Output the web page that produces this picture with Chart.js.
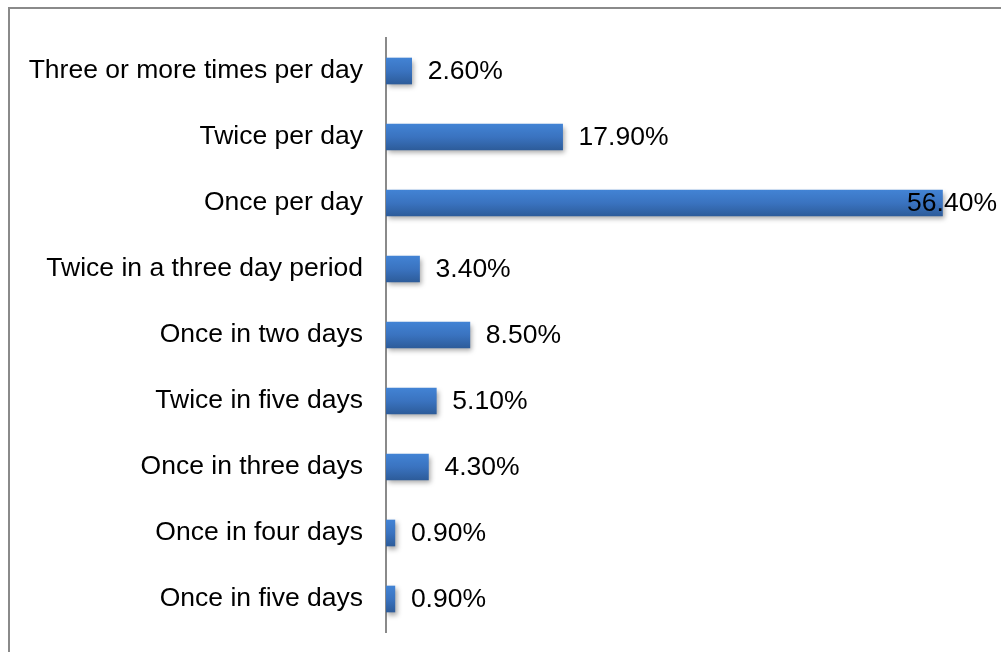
<!DOCTYPE html>
<html>
<head>
<meta charset="utf-8">
<script src="https://cdn.jsdelivr.net/npm/chart.js@4/dist/chart.umd.min.js"></script>
<style>
  html, body { margin: 0; padding: 0; background: #fff; }
  #wrap { width: 1001px; height: 652px; }
</style>
</head>
<body>
<div id="wrap"><canvas id="freq"></canvas></div>
<script>
const categories = [
  'Three or more times per day',
  'Twice per day',
  'Once per day',
  'Twice in a three day period',
  'Once in two days',
  'Twice in five days',
  'Once in three days',
  'Once in four days',
  'Once in five days'
];
const shares = [2.6, 17.9, 56.4, 3.4, 8.5, 5.1, 4.3, 0.9, 0.9];

const FONT = '"Liberation Sans", Arial, sans-serif';
const FONT_SIZE = 26.5;

// outer frame: left and top edges only
const framePlugin = {
  id: 'frame',
  beforeDraw(chart) {
    const ctx = chart.ctx;
    ctx.save();
    ctx.fillStyle = '#8a8a8a';
    ctx.fillRect(8, 7, 2, 645);
    ctx.fillRect(8, 7, 993, 2);
    ctx.restore();
  }
};

// soft drop shadow under the bars
const shadowPlugin = {
  id: 'barShadow',
  beforeDatasetsDraw(chart) {
    const ctx = chart.ctx;
    ctx.save();
    ctx.shadowColor = 'rgba(0,0,0,0.35)';
    ctx.shadowBlur = 5;
    ctx.shadowOffsetX = 2;
    ctx.shadowOffsetY = 3;
  },
  afterDatasetsDraw(chart) {
    chart.ctx.restore();
  }
};

// value labels to the right of each bar, kept inside the canvas
const valueLabels = {
  id: 'valueLabels',
  afterDatasetsDraw(chart) {
    const ctx = chart.ctx;
    const meta = chart.getDatasetMeta(0);
    ctx.save();
    ctx.font = FONT_SIZE + 'px ' + FONT;
    ctx.fillStyle = '#000';
    ctx.textBaseline = 'middle';
    ctx.textAlign = 'left';
    meta.data.forEach((bar, i) => {
      const txt = shares[i].toFixed(2) + '%';
      const w = ctx.measureText(txt).width;
      const x = Math.min(bar.x + 16, 997 - w);
      ctx.fillText(txt, x, bar.y + 1);
    });
    ctx.restore();
  }
};

new Chart(document.getElementById('freq'), {
  type: 'bar',
  data: {
    labels: categories,
    datasets: [{
      data: shares,
      barThickness: 26,
      borderWidth: 0,
      backgroundColor: (c) => {
        const chart = c.chart;
        const y = chart.scales.y;
        if (!chart.chartArea || !y) return '#3a72bd';
        const cy = y.getPixelForValue(c.dataIndex);
        const g = chart.ctx.createLinearGradient(0, cy - 13, 0, cy + 13);
        g.addColorStop(0, '#4283d4');
        g.addColorStop(0.5, '#3a73c0');
        g.addColorStop(1, '#2d5c9a');
        return g;
      }
    }]
  },
  options: {
    indexAxis: 'y',
    responsive: true,
    maintainAspectRatio: false,
    animation: false,
    layout: { padding: { top: 38, bottom: 20, right: 23, left: 0 } },
    scales: {
      x: {
        display: false,
        min: 0,
        max: 60
      },
      y: {
        grid: { display: false, drawTicks: false },
        border: { display: true, color: '#8a8a8a', width: 2 },
        ticks: {
          color: '#000',
          padding: 23,
          font: { family: FONT, size: FONT_SIZE }
        },
        afterFit(scale) {
          scale.width = 386;
          // labels sit well inside the plot, no extra room needed above/below
          scale.paddingTop = 0;
          scale.paddingBottom = 0;
        }
      }
    },
    plugins: {
      legend: { display: false },
      tooltip: { enabled: false }
    }
  },
  plugins: [framePlugin, shadowPlugin, valueLabels]
});
</script>
</body>
</html>
